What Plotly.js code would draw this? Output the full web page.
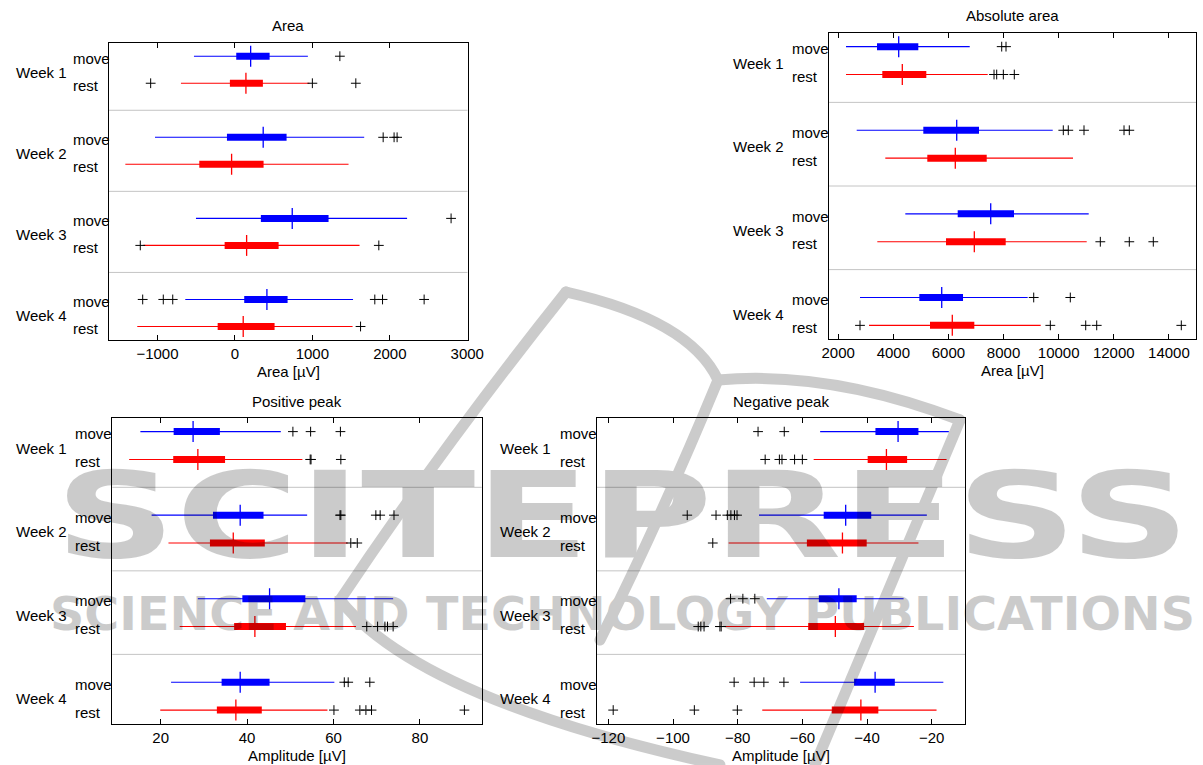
<!DOCTYPE html>
<html><head><meta charset="utf-8">
<script src="https://cdn.plot.ly/plotly-3.0.1.min.js"></script>
<style>
html,body{margin:0;padding:0;background:#fff;}
#wrap{position:relative;width:1203px;height:765px;}
#chart{position:absolute;left:0;top:0;width:1203px;height:765px;}
#wm{position:absolute;left:0;top:0;pointer-events:none;}
</style></head><body>
<div id="wrap"><div id="chart"></div>
<svg id="wm" width="1203" height="765" xmlns="http://www.w3.org/2000/svg">
 <g opacity="0.2">
  <g fill="#000" font-family="DejaVu Sans" font-weight="bold">
   <text x="55" y="557" font-size="120" textLength="1135" lengthAdjust="spacingAndGlyphs">SCITEPRESS</text>
   <text x="50" y="630" font-size="46" textLength="1145" lengthAdjust="spacingAndGlyphs">SCIENCE AND TECHNOLOGY PUBLICATIONS</text>
  </g>
  <g fill="none" stroke="#000" stroke-width="11" stroke-linecap="round">
   <path d="M 566 292 Q 440 450 340 600"/>
   <path d="M 340 600 Q 420 700 720 765"/>
   <path d="M 566 292 Q 690 320 718 380"/>
   <path d="M 718 380 Q 830 370 960 420"/>
   <path d="M 718 380 Q 660 520 600 640"/>
   <path d="M 960 420 L 815 765"/>
  </g>
 </g>
</svg>
</div>
<script>
// ---------- data ----------
const weeks = ['Week 1', 'Week 2', 'Week 3', 'Week 4'];
const groups = ['move', 'rest'];
const titles = ['Area', 'Absolute area', 'Positive peak', 'Negative peak'];
const xTitles = ['Area [µV]', 'Area [µV]', 'Amplitude [µV]', 'Amplitude [µV]'];

// each row: [lower whisker, Q1, median, Q3, upper whisker] for Week 1..4
const areaMoveStats = [
  [-529, 17, 203, 448, 942],
  [-1032, -103, 365, 667, 1669],
  [-503, 335, 740, 1209, 2223],
  [-641, 120, 413, 680, 1525]];
const areaMoveOut = [[1355], [1914, 2055, 2094], [2791], [-1191, -925, -803, 1806, 1906, 2443]];
const areaRestStats = [
  [-697, -65, 142, 361, 962],
  [-1415, -460, -43, 370, 1467],
  [-1183, -133, 151, 564, 1609],
  [-1261, -223, 107, 512, 1519]];
const areaRestOut = [[-1088, 1000, 1561], [], [-1222, 1858], [1622]];

const absMoveStats = [
  [2283, 3408, 4195, 4907, 6772],
  [2671, 5088, 6300, 7109, 9784],
  [4435, 6336, 7534, 8379, 11090],
  [2791, 4943, 5756, 6529, 8876]];
const absMoveOut = [[7933, 8089], [10168, 10349, 10919, 12371, 12563], [], [9094, 10422]];
const absRestStats = [
  [2283, 3600, 4326, 5197, 7425],
  [3709, 5233, 6249, 7389, 10520],
  [3419, 5912, 6939, 8078, 11017],
  [3118, 5331, 6140, 6939, 9348]];
const absRestOut = [[7654, 7751, 7992, 8390], [], [11511, 12563, 13434], [2791, 9697, 10981, 11380, 14450]];

const posMoveStats = [
  [15.3, 23.0, 27.5, 33.7, 47.8],
  [17.9, 32.1, 38.4, 43.8, 53.9],
  [28.6, 38.9, 45.2, 53.5, 73.8],
  [22.4, 34.1, 38.4, 45.2, 60.2]];
const posMoveOut = [[50.6, 54.7, 61.6], [61.5, 61.7, 69.8, 70.8, 74.0], [], [62.5, 63.4, 68.4]];
const posRestStats = [
  [12.7, 22.9, 28.6, 34.9, 52.8],
  [21.8, 31.4, 36.8, 44.1, 63.3],
  [24.4, 37.0, 41.8, 49.0, 65.2],
  [19.9, 33.0, 37.4, 43.4, 58.6]];
const posRestOut = [[54.6, 54.8, 61.7], [64.0, 65.5], [67.7, 70.2, 71.9, 72.5, 73.8], [60.1, 66.1, 67.5, 68.8, 90.3]];

const negMoveStats = [
  [-54.5, -37.4, -30.4, -24.1, -14.7],
  [-73.4, -53.4, -46.6, -38.7, -21.5],
  [-71.0, -54.9, -48.7, -43.2, -28.7],
  [-60.7, -44.0, -37.5, -31.4, -16.4]];
const negMoveOut = [[-73.7, -65.6], [-95.6, -86.7, -83.2, -82.1, -81.0, -80.2], [-82.2, -78.4, -74.7], [-81.1, -74.9, -71.9, -65.7]];
const negRestStats = [
  [-56.5, -39.8, -34.0, -27.6, -15.4],
  [-82.8, -58.6, -47.6, -40.1, -24.1],
  [-84.4, -58.2, -49.8, -40.9, -25.5],
  [-72.4, -50.9, -41.9, -36.5, -18.5]];
const negRestOut = [[-71.5, -67.1, -66.3, -62.4, -60.0], [-87.7], [-92.2, -91.4, -90.4, -85.5, -85.1], [-118.5, -93.4, -80.1]];

// x-axis ranges / ticks
const xRanges = [[-1626, 3003], [1666, 14983], [8.8, 94.3], [-123.6, -9.7]];
const xTickVals = [[-1000, 0, 1000, 2000, 3000], [2000, 4000, 6000, 8000, 10000, 12000, 14000], [20, 40, 60, 80], [-120, -100, -80, -60, -40, -20]];
const xTickText = xTickVals.map(a => a.map(v => (v < 0 ? '\u2212' + Math.abs(v) : String(v))));

// ---------- layout geometry (pixels) ----------
const W = 1203, H = 765;
const fx = px => px / W, fy = py => 1 - py / H;
const frames = [
  {L: 109, R: 467.5, T: 42.7, B: 340, moveX: 70.5, weekX: 13.5, titleY: 26},
  {L: 829, R: 1196, T: 32.7, B: 339.3, moveX: 789.5, weekX: 731, titleY: 15.5},
  {L: 112.3, R: 481.7, T: 417.7, B: 724, moveX: 72.5, weekX: 13.5, titleY: 401},
  {L: 596.7, R: 965, T: 417.7, B: 724, moveX: 557.5, weekX: 498, titleY: 401}
];

const allStats = [[areaMoveStats, areaRestStats], [absMoveStats, absRestStats], [posMoveStats, posRestStats], [negMoveStats, negRestStats]];
const allOut = [[areaMoveOut, areaRestOut], [absMoveOut, absRestOut], [posMoveOut, posRestOut], [negMoveOut, negRestOut]];
const colors = ['#0000ff', '#ff0000'];

const traces = [];
const layout = {
  width: W, height: H, autosize: false,
  margin: {l: 0, r: 0, t: 0, b: 0},
  paper_bgcolor: '#fff', plot_bgcolor: '#fff',
  showlegend: false,
  font: {family: 'Liberation Sans, Arial, sans-serif', size: 15, color: '#000'},
  shapes: [], annotations: []
};

frames.forEach((f, p) => {
  const n = p === 0 ? '' : String(p + 1);
  const xa = 'x' + n, ya = 'y' + n;
  layout['xaxis' + n] = {
    domain: [fx(f.L), fx(f.R)], anchor: ya, range: xRanges[p],
    tickmode: 'array', tickvals: xTickVals[p], ticktext: xTickText[p],
    ticks: 'inside', ticklen: 5, tickwidth: 1, tickcolor: '#000',
    showline: true, linecolor: '#000', linewidth: 1, mirror: 'ticks',
    showgrid: false, zeroline: false, fixedrange: true,
    tickfont: {size: 15, color: '#000'}
  };
  layout['yaxis' + n] = {
    domain: [fy(f.B), fy(f.T)], anchor: xa, range: [10.5, -0.5],
    showline: true, linecolor: '#000', linewidth: 1, mirror: true,
    ticks: '', showticklabels: false, showgrid: false, zeroline: false, fixedrange: true
  };
  // group separators
  for (let k = 0; k < 3; k++) {
    layout.shapes.push({type: 'line', xref: xa + ' domain', yref: ya, x0: 0, x1: 1,
      y0: 3 * k + 2, y1: 3 * k + 2, line: {color: '#c4c4c4', width: 1}, layer: 'below'});
  }
  // titles
  layout.annotations.push({xref: 'paper', yref: 'paper', x: fx((f.L + f.R) / 2), y: fy(f.titleY),
    text: titles[p], showarrow: false, xanchor: 'center', yanchor: 'middle', font: {size: 15}});
  layout.annotations.push({xref: 'paper', yref: 'paper', x: fx((f.L + f.R) / 2), y: fy(f.B + 31),
    text: xTitles[p], showarrow: false, xanchor: 'center', yanchor: 'middle', font: {size: 15}});
  // category labels
  weeks.forEach((w, k) => {
    layout.annotations.push({xref: 'paper', yref: ya, x: fx(f.weekX), y: 3 * k + 0.6,
      text: w, showarrow: false, xanchor: 'left', yanchor: 'middle', font: {size: 15}});
    groups.forEach((g, gi) => {
      layout.annotations.push({xref: 'paper', yref: ya, x: fx(f.moveX), y: 3 * k + gi + 0.08,
        text: g, showarrow: false, xanchor: 'left', yanchor: 'middle', font: {size: 15}});
    });
  });

  const ox = [], oy = [];
  [0, 1].forEach(g => {
    const st = allStats[p][g];
    const wx = [], wy = [], bx = [], by = [], mx = [], my = [];
    st.forEach((s, k) => {
      const pos = 3 * k + g;
      wx.push(s[0], s[4], null); wy.push(pos, pos, null);
      bx.push(s[1], s[3], null); by.push(pos, pos, null);
      mx.push(s[2]); my.push(pos);
      allOut[p][g][k].forEach(v => { ox.push(v); oy.push(pos); });
    });
    traces.push({type: 'scatter', mode: 'lines', x: wx, y: wy, xaxis: xa, yaxis: ya,
      line: {color: colors[g], width: 1.1}, hoverinfo: 'skip'});
    traces.push({type: 'scatter', mode: 'lines', x: bx, y: by, xaxis: xa, yaxis: ya,
      line: {color: colors[g], width: 7}, hoverinfo: 'skip'});
    traces.push({type: 'scatter', mode: 'markers', x: mx, y: my, xaxis: xa, yaxis: ya,
      marker: {symbol: 'line-ns', size: 15, color: colors[g], line: {color: colors[g], width: 1.3}}, hoverinfo: 'skip'});
  });
  traces.push({type: 'scatter', mode: 'markers', x: ox, y: oy, xaxis: xa, yaxis: ya,
    marker: {symbol: 'cross-thin', size: 7, color: '#000', line: {color: '#000', width: 1}}, hoverinfo: 'skip'});
});

Plotly.newPlot('chart', traces, layout, {staticPlot: true, displayModeBar: false});
</script>
</body></html>
